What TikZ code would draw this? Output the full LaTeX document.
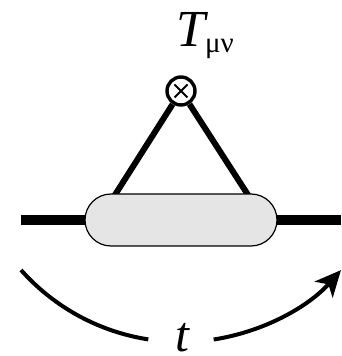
\documentclass[tikz,border=0pt]{standalone}
\usepackage{fontspec}
\setmainfont{Liberation Serif}
\usetikzlibrary{arrows.meta}

\begin{document}
\begin{tikzpicture}[x=1pt, y=1pt, >={Stealth[length=26pt,width=24pt,inset=7pt]},
    leg/.style={line width=6pt},
    blob/.style={draw, line width=1.2pt, fill=black!10, rounded corners=26pt,
        minimum width=192pt, minimum height=52pt, inner sep=0pt},
    vertex/.style={draw, circle, line width=3.4pt, fill=white, minimum size=28pt, inner sep=0pt}]
    \useasboundingbox (0,0) rectangle (341,356);

    % Insertion point
    \node [vertex] (vtx) at (181,265) {};
    \draw [line width=2pt] (vtx.center) ++(-6.5,-6.5) -- ++(13,13);
    \draw [line width=2pt] (vtx.center) ++(-6.5,6.5) -- ++(13,-13);
    \node [anchor=base] (lbl) at (205,309)
        {\fontsize{52}{60}\selectfont\itshape T\raisebox{-6pt}{\upshape\fontsize{29}{32}\selectfont μν}};

    % Propagator line and legs
    \coordinate (inL) at (21,136);
    \coordinate (inR) at (341,136);
    \coordinate (legL) at (113,158);
    \coordinate (legR) at (250,158);
    \draw [line width=10pt] (inL) -- (inR);
    \draw [leg] (vtx) -- (legL);
    \draw [leg] (vtx) -- (legR);

    % Blob
    \node [blob] (bl) at (181,136) {};

    % Time arrow
    \node [anchor=base, inner sep=0pt] (time) at (182,4.5) {\fontsize{50}{58}\selectfont\itshape t};
    \coordinate (arcL) at (21,86);
    \coordinate (gapR) at (213.7,16.5);
    \draw [line width=4pt] (arcL) arc [start angle=221.6, end angle=261.2, radius=214];
    \draw [line width=4pt, ->] (gapR) arc [start angle=278.8, end angle=318.4, radius=214];
\end{tikzpicture}
\end{document}
